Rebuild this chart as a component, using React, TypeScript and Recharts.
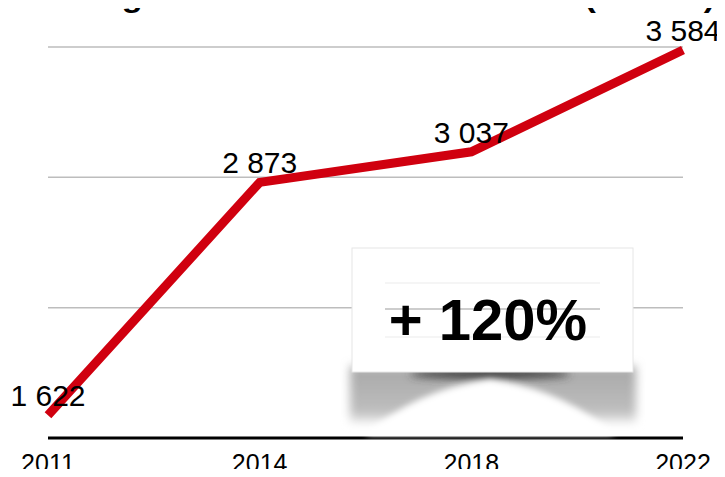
import React from 'react';
import { LineChart, Line, XAxis, YAxis, CartesianGrid, LabelList } from 'recharts';

const years: string[] = ['2011', '2014', '2018', '2022'];
const counts: number[] = [1622, 2873, 3037, 3584];
const yTicks: number[] = [1500, 2200, 2900, 3600];
const title = 'Progression de la PACES PASS (en vol.)';
const growthLabel = '+ 120%';

const data = years.map((year, i) => ({ year, value: counts[i] }));

const FONT = '"Liberation Sans", Arial, Helvetica, sans-serif';

const fmt = (v: number) => String(v).replace(/\B(?=(\d{3})+(?!\d))/g, ' ');

const ValueLabel = (props: any) => {
  const { x, y, value } = props;
  return (
    <text x={x} y={y - 9} textAnchor="middle" fontSize={30} fontFamily={FONT} fill="#000">
      {fmt(value)}
    </text>
  );
};

const YearTick = (props: any) => {
  const { x, y, payload } = props;
  return (
    <text x={x} y={y + 26} textAnchor="middle" fontSize={25} fontFamily={FONT} fill="#000">
      {payload.value}
    </text>
  );
};

const App: React.FC = () => {
  return (
    <div style={{ position: 'relative', width: 725, height: 477, margin: -8, background: '#fff', overflow: 'hidden' }}>
      <LineChart width={725} height={477} data={data} margin={{ top: 47, right: 42, bottom: 0, left: 48 }}>
        <CartesianGrid vertical={false} stroke="#bdbdbd" strokeWidth={1.5} />
        <YAxis hide domain={[1500, 3600]} ticks={yTicks} />
        <XAxis
          dataKey="year"
          height={39}
          axisLine={{ stroke: '#000', strokeWidth: 3 }}
          tickLine={false}
          tick={<YearTick />}
          interval={0}
        />
        <Line
          type="linear"
          dataKey="value"
          stroke="#d0000f"
          strokeWidth={9}
          dot={false}
          isAnimationActive={false}
        >
          <LabelList dataKey="value" content={<ValueLabel />} />
        </Line>
      </LineChart>
      <svg width={725} height={477} style={{ position: 'absolute', left: 0, top: 0, pointerEvents: 'none' }}>
        <defs>
          <filter id="blurA" x="-20%" y="-50%" width="140%" height="200%">
            <feGaussianBlur stdDeviation="5" />
          </filter>
          <filter id="blurB" x="-30%" y="-50%" width="160%" height="200%">
            <feGaussianBlur stdDeviation="3" />
          </filter>
          <filter id="blurC" x="-30%" y="-200%" width="160%" height="500%">
            <feGaussianBlur stdDeviation="4" />
          </filter>
          <linearGradient id="sideShade" x1="0" y1="0" x2="0" y2="1">
            <stop offset="0" stopColor="#a8a8a8" />
            <stop offset="0.8" stopColor="#bdbdbd" />
            <stop offset="1" stopColor="#e8e8e8" />
          </linearGradient>
        </defs>
        <text x={390} y={7} textAnchor="middle" fontSize={30} fontWeight="bold" fontFamily={FONT}
          textLength={650} lengthAdjust="spacingAndGlyphs">
          {title}
        </text>
        <rect x={350} y={366} width={286} height={56} fill="url(#sideShade)" filter="url(#blurA)" />
        <ellipse cx={490} cy={374} rx={80} ry={5} fill="#3a3a3a" filter="url(#blurC)" />
        <path d="M 365 435 Q 415 390 490 379 Q 565 390 615 435 Z" fill="#fff" filter="url(#blurB)" />
        <rect x={352} y={248} width={281} height={124} fill="#fff" stroke="#e6e6e6" strokeWidth={1} />
        <line x1={385} x2={600} y1={283} y2={283} stroke="#ebebeb" strokeWidth={1} />
        <line x1={385} x2={600} y1={337} y2={337} stroke="#ebebeb" strokeWidth={1} />
        <line x1={385} x2={600} y1={309} y2={309} stroke="#bdbdbd" strokeWidth={1.5} />
        <text x={488} y={340} textAnchor="middle" fontSize={58} fontWeight="bold" fontFamily={FONT}>
          {growthLabel}
        </text>
      </svg>
    </div>
  );
};

export default App;
